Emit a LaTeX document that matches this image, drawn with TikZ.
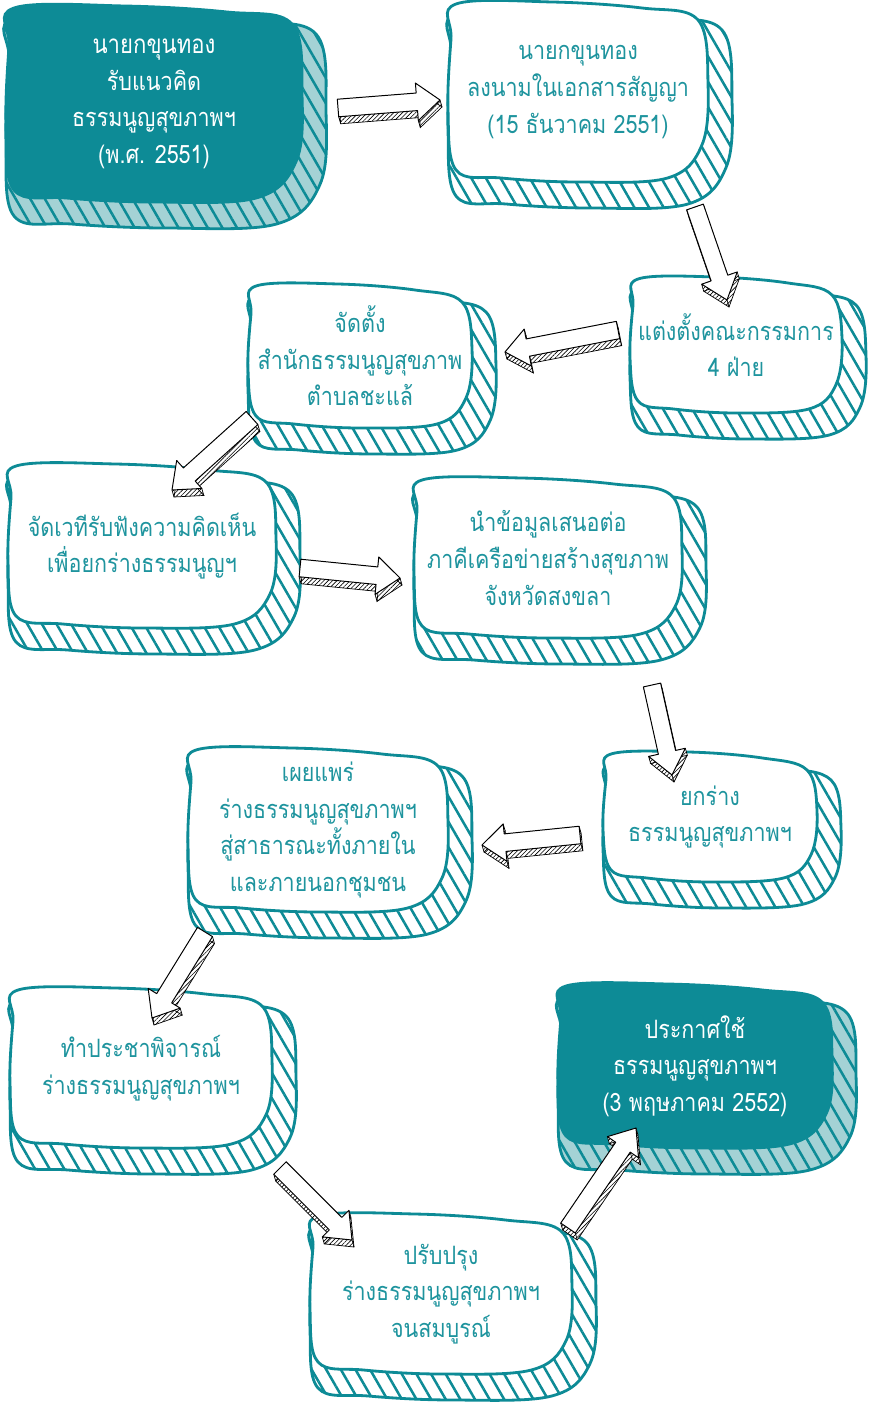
\documentclass[tikz,border=0pt]{standalone}
\usepackage{fontspec}
\newfontfamily\thaifont[Script=Thai, FakeStretch=0.85]{Loma}
\usepackage{tikz}
\usetikzlibrary{calc, patterns, patterns.meta}
\definecolor{tealc}{RGB}{13,139,150}
\definecolor{tealtext}{RGB}{30,148,158}
\definecolor{tealshade}{RGB}{164,210,213}

\newcommand{\boxfont}{\thaifont\fontsize{18}{26}\selectfont}

% wobbly bubble around a centre: style, centre, half width, half height
\newcommand{\blob}[4]{%
  \filldraw[#1, shift={(#2)}] plot[smooth cycle, tension=0.6] coordinates {
    ({-(#3)+6},{-(#4)}) ({-0.2*(#3)},{-(#4)-2}) ({0.5*(#3)},{-(#4)+4}) ({(#3)-8},{-(#4)+16})
    ({(#3)+2},{-0.1*(#4)}) ({(#3)-4},{0.6*(#4)}) ({0.7*(#3)},{(#4)-2}) (0,{(#4)+2})
    ({-0.6*(#3)},{(#4)-2}) ({-(#3)+6},{(#4)-10}) ({-(#3)-2},{0.2*(#4)}) ({-(#3)+1},{-0.6*(#4)})};}

% box with hatched shadow: style, name, x, y, half width, half height, text
\newcommand{\stepbox}[7]{%
  \blob{#1 shade}{#3+12,#4+18}{#5+12}{#6+8}
  \blob{#1 body}{#3,#4}{#5}{#6}
  \node[#1 text] (#2) at (#3,#4) {#7};}

% sketched block arrow: name, from, to
\newcommand{\sketcharrow}[3]{%
  \coordinate (#1h) at ($(#3)!0.58cm!(#2)$);
  \coordinate (#1p1) at ($(#2)!0.22cm!90:(#3)$);
  \coordinate (#1p2) at ($(#1h)!0.22cm!-90:(#2)$);
  \coordinate (#1p3) at ($(#1h)!0.47cm!-90:(#2)$);
  \coordinate (#1p4) at (#3);
  \coordinate (#1p5) at ($(#1h)!0.47cm!90:(#2)$);
  \coordinate (#1p6) at ($(#1h)!0.22cm!90:(#2)$);
  \coordinate (#1p7) at ($(#2)!0.22cm!-90:(#3)$);
  \foreach \pa/\pb in {1/2,2/3,3/4,4/5,5/6,6/7,7/1}
    {\fill[arrow side] (#1p\pa) -- (#1p\pb) -- ([shift={(2,7)}]#1p\pb) -- ([shift={(2,7)}]#1p\pa) -- cycle;}
  \foreach \pa in {1,...,7}
    {\draw[line width=0.5pt] (#1p\pa) -- ([shift={(2,7)}]#1p\pa);}
  \draw[line width=0.5pt] ([shift={(2,7)}]#1p1) -- ([shift={(2,7)}]#1p2) -- ([shift={(2,7)}]#1p3)
    -- ([shift={(2,7)}]#1p4) -- ([shift={(2,7)}]#1p5) -- ([shift={(2,7)}]#1p6) -- ([shift={(2,7)}]#1p7) -- cycle;
  \filldraw[arrow top] (#1p1) -- (#1p2) -- (#1p3) -- (#1p4) -- (#1p5) -- (#1p6) -- (#1p7) -- cycle;}

\tikzset{
  plain shade/.style={fill=white, draw=tealc, line width=2pt,
    postaction={pattern={Lines[angle=-60,distance=9pt,line width=1.8pt]}, pattern color=tealc}},
  plain body/.style={fill=white, draw=tealc, line width=2pt},
  plain text/.style={text=tealtext, align=center, font=\boxfont},
  solid shade/.style={fill=tealshade, draw=tealc, line width=2pt,
    postaction={pattern={Lines[angle=-60,distance=9pt,line width=1.8pt]}, pattern color=tealc}},
  solid body/.style={fill=tealc, draw=tealc, line width=2pt},
  solid text/.style={text=white, align=center, font=\boxfont},
  arrow side/.style={fill=white, postaction={pattern={Lines[angle=45,distance=2.2pt,line width=0.4pt]}}},
  arrow top/.style={fill=white, draw=black, line width=0.7pt, line join=round}
}

\begin{document}
\begin{tikzpicture}[x=0.025cm, y=-0.025cm]
  \useasboundingbox (0,0) rectangle (870,1412);

  % steps
  \stepbox{solid}{b1}{154}{104}{146}{96}{\fontsize{18.5}{28.5}\selectfont นายกขุนทอง\\รับแนวคิด\\ธรรมนูญสุขภาพฯ\\(พ.ศ. 2551)}
  \stepbox{plain}{b2}{578}{92}{128}{88}{นายกขุนทอง\\ลงนามในเอกสารสัญญา\\(15 ธันวาคม 2551)}
  \stepbox{plain}{b3}{360}{356}{110}{70}{จัดตั้ง\\สำนักธรรมนูญสุขภาพ\\ตำบลชะแล้}
  \stepbox{plain}{b4}{736}{345}{104}{66}{แต่งตั้งคณะกรรมการ\\4 ฝ่าย}
  \stepbox{plain}{b5}{142}{546}{132}{80}{จัดเวทีรับฟังความคิดเห็น\\เพื่อยกร่างธรรมนูญฯ}
  \stepbox{plain}{b6}{548}{558}{132}{78}{นำข้อมูลเสนอต่อ\\ภาคีเครือข่ายสร้างสุขภาพ\\จังหวัดสงขลา}
  \stepbox{plain}{b7}{710}{817}{105}{63}{ยกร่าง\\ธรรมนูญสุขภาพฯ}
  \stepbox{plain}{b8}{318}{830}{128}{80}{เผยแพร่\\ร่างธรรมนูญสุขภาพฯ\\สู่สาธารณะทั้งภายใน\\และภายนอกชุมชน}
  \stepbox{plain}{b9}{141}{1068}{129}{78}{ทำประชาพิจารณ์\\ร่างธรรมนูญสุขภาพฯ}
  \stepbox{solid}{b10}{695}{1066}{135}{80}{ประกาศใช้\\ธรรมนูญสุขภาพฯ\\(3 พฤษภาคม 2552)}
  \stepbox{plain}{b11}{441}{1294}{129}{78}{ปรับปรุง\\ร่างธรรมนูญสุขภาพฯ\\จนสมบูรณ์}

  % arrow ends
  \coordinate (a1s) at (338,108);  \coordinate (a1e) at (440,100);
  \coordinate (a2s) at (695,207);  \coordinate (a2e) at (727,300);
  \coordinate (a3s) at (618,330);  \coordinate (a3e) at (505,352);
  \coordinate (a4s) at (252,418);  \coordinate (a4e) at (172,490);
  \coordinate (a5s) at (300,568);  \coordinate (a5e) at (400,578);
  \coordinate (a6s) at (652,685);  \coordinate (a6e) at (672,775);
  \coordinate (a7s) at (580,835);  \coordinate (a7e) at (482,845);
  \coordinate (a8s) at (205,932);  \coordinate (a8e) at (152,1018);
  \coordinate (a9s) at (280,1168); \coordinate (a9e) at (352,1240);
  \coordinate (a10s) at (568,1228); \coordinate (a10e) at (636,1128);

  \foreach \idx in {1,...,10}
    {\sketcharrow{a\idx}{a\idx s}{a\idx e}}
\end{tikzpicture}
\end{document}
